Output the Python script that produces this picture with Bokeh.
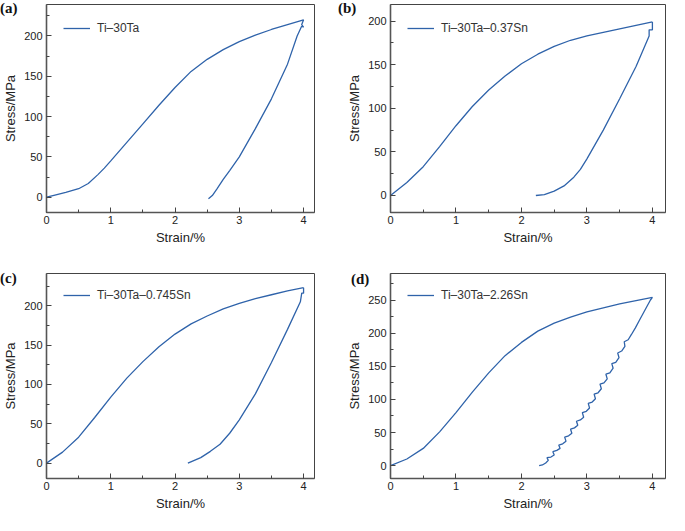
from bokeh.plotting import figure
from bokeh.models import (Range1d, SingleIntervalTicker, Legend, LegendItem, Div, GridBox)
from bokeh.embed import file_html
from bokeh.resources import INLINE

# ---------------- data ----------------
names = ["Ti\u201330Ta", "Ti\u201330Ta\u20130.37Sn", "Ti\u201330Ta\u20130.745Sn", "Ti\u201330Ta\u20132.26Sn"]
tags = ["(a)", "(b)", "(c)", "(d)"]

a_load_x = [0, 0.1, 0.3, 0.5, 0.65, 0.8, 0.9, 1.0, 1.25, 1.5, 1.75, 2.0, 2.25, 2.5, 2.75, 3.0, 3.25, 3.5, 3.75, 4.0]
a_load_y = [0, 2, 6, 10.5, 17, 28, 36, 45, 68, 91, 114, 136, 156, 171, 183, 193, 201, 208, 214, 220]
a_unl_x = [4.0, 3.97, 4.0, 3.97, 3.9, 3.75, 3.5, 3.25, 3.0, 2.85, 2.75, 2.65, 2.58, 2.52]
a_unl_y = [220, 214, 211, 212, 200, 165, 122, 85, 50, 33, 22, 10, 2, -2]

b_load_x = [0, 0.25, 0.5, 0.75, 1.0, 1.25, 1.5, 1.75, 2.0, 2.25, 2.5, 2.75, 3.0, 3.25, 3.5, 3.75, 4.0]
b_load_y = [0, 15, 33, 56, 80, 102, 121, 137, 151, 162, 171, 178, 183, 187, 191, 195, 199]
b_unl_x = [4.0, 4.0, 3.95, 3.95, 3.75, 3.5, 3.25, 3.0, 2.9, 2.8, 2.65, 2.5, 2.35, 2.22]
b_unl_y = [199, 190, 190, 183, 148, 111, 75, 42, 30, 21, 11, 5, 1, 0]

c_load_x = [0, 0.25, 0.5, 0.75, 1.0, 1.25, 1.5, 1.75, 2.0, 2.25, 2.5, 2.75, 3.0, 3.25, 3.5, 3.75, 4.0]
c_load_y = [0, 14, 33, 58, 84, 108, 129, 148, 164, 177, 187, 196, 203, 209, 214, 219, 223]
c_unl_x = [4.0, 4.0, 3.97, 3.97, 3.95, 3.75, 3.5, 3.25, 3.0, 2.85, 2.7, 2.55, 2.4, 2.2]
c_unl_y = [223, 216, 216, 215, 205, 170, 128, 88, 55, 38, 24, 15, 7, 0]

d_load_x = [0, 0.25, 0.5, 0.75, 1.0, 1.25, 1.5, 1.75, 2.0, 2.25, 2.5, 2.75, 3.0, 3.25, 3.5, 3.75, 4.0]
d_load_y = [0, 10, 26, 51, 80, 111, 140, 166, 186, 203, 215, 224, 232, 238, 244, 249, 254]
d_unl_x = [2.27, 2.32, 2.37, 2.41, 2.39, 2.45, 2.50, 2.48, 2.54, 2.59, 2.57, 2.63, 2.68, 2.66, 2.72,
           2.77, 2.75, 2.81, 2.86, 2.84, 2.90, 2.95, 2.93, 2.99, 3.04, 3.02, 3.08, 3.13, 3.11, 3.17,
           3.22, 3.20, 3.26, 3.31, 3.29, 3.35, 3.40, 3.38, 3.44, 3.49, 3.47, 3.53, 3.58, 3.57, 3.63,
           3.68, 3.74, 3.80, 3.86, 3.92, 3.97, 4.0]
d_unl_y = [0, 1, 4, 8, 12, 13, 16, 21, 23, 26, 31, 33, 37, 43, 45,
           49, 55, 57, 61, 67, 69, 73, 80, 82, 87, 94, 96, 101, 108, 110,
           116, 123, 125, 131, 138, 140, 147, 154, 156, 163, 170, 173, 180, 187, 190,
           198, 208, 219, 230, 241, 250, 254]

x_ends = [4.17, 4.2, 4.17, 4.2]
y_starts = [-19, -19.5, -19.5, -19.4]
y_ends = [239, 219, 241, 290]

loads = [(a_load_x, a_load_y), (b_load_x, b_load_y), (c_load_x, c_load_y), (d_load_x, d_load_y)]
unls = [(a_unl_x, a_unl_y), (b_unl_x, b_unl_y), (c_unl_x, c_unl_y), (d_unl_x, d_unl_y)]

# ---------------- layout ----------------
LINE = "#2f63aa"
FONT = "Liberation Sans"

# (width, height, border_left, border_right, border_top, border_bottom, tag top, tag left, row, col)
geom = [
    (336, 259, 40, 22, 4, 47, 0, 0, 0, 0),
    (333, 259, 54, 4, 4, 47, 0, 2, 0, 1),
    (336, 254, 40, 22, 14, 33, 11, 0, 1, 0),
    (333, 254, 54, 4, 14, 33, 12, 15, 1, 1),
]

children = []
tag_divs = []
for i in range(4):
    W, H, bl, br, bt, bb, tt, tl, r, c = geom[i]
    p = figure(width=W, height=H, output_backend="svg", toolbar_location=None,
               x_range=Range1d(0, x_ends[i]), y_range=Range1d(y_starts[i], y_ends[i]))
    p.min_border = 0
    p.min_border_left = bl
    p.min_border_right = br
    p.min_border_top = bt
    p.min_border_bottom = bb
    p.grid.visible = False
    p.background_fill_color = "white"
    p.border_fill_color = "white"
    p.outline_line_color = "#444444"
    p.outline_line_width = 1

    p.xaxis.ticker = SingleIntervalTicker(interval=1, num_minor_ticks=2)
    p.yaxis.ticker = SingleIntervalTicker(interval=50, num_minor_ticks=2)
    for ax in (p.xaxis[0], p.yaxis[0]):
        ax.axis_line_color = "#555555"
        ax.axis_line_width = 1.6
        ax.major_tick_line_color = "#444444"
        ax.minor_tick_line_color = "#444444"
        ax.major_tick_in = 5
        ax.major_tick_out = 0
        ax.minor_tick_in = 3
        ax.minor_tick_out = 0
        ax.major_label_text_font = FONT
        ax.major_label_text_font_size = "11px"
        ax.major_label_text_color = "#222222"
        ax.axis_label_text_font = FONT
        ax.axis_label_text_font_size = "13px"
        ax.axis_label_text_font_style = "normal"
        ax.axis_label_text_color = "#222222"
    p.xaxis.axis_label = "Strain/%"
    p.yaxis.axis_label = "Stress/MPa"
    p.xaxis.major_label_standoff = 3
    p.xaxis.axis_label_standoff = 3
    p.yaxis.major_label_standoff = 4
    p.yaxis.axis_label_standoff = 3

    lx, ly = loads[i]
    ux, uy = unls[i]
    r1 = p.line(lx, ly, line_color=LINE, line_width=1.3)
    p.line(ux, uy, line_color=LINE, line_width=1.3)

    fh = H - bt - bb
    leg = Legend(items=[LegendItem(label=names[i], renderers=[r1])],
                 location=(17, fh - 34), padding=0, margin=0, spacing=0,
                 glyph_width=27, glyph_height=20, label_standoff=7,
                 label_text_font=FONT, label_text_font_size="12px",
                 label_text_color="#333333",
                 border_line_alpha=0, background_fill_alpha=0)
    p.add_layout(leg)
    children.append((p, r, c))

    d = Div(text='<span style="font-family:\'Liberation Serif\';font-weight:bold;'
                 'font-size:15px;color:#111111;line-height:17px;">' + tags[i] + '</span>',
            width=24, height=18, margin=(tt, 0, 0, tl))
    tag_divs.append((d, r, c))

layout = GridBox(children=children + tag_divs, spacing=0)
open("out.html", "w").write(file_html(layout, INLINE))
